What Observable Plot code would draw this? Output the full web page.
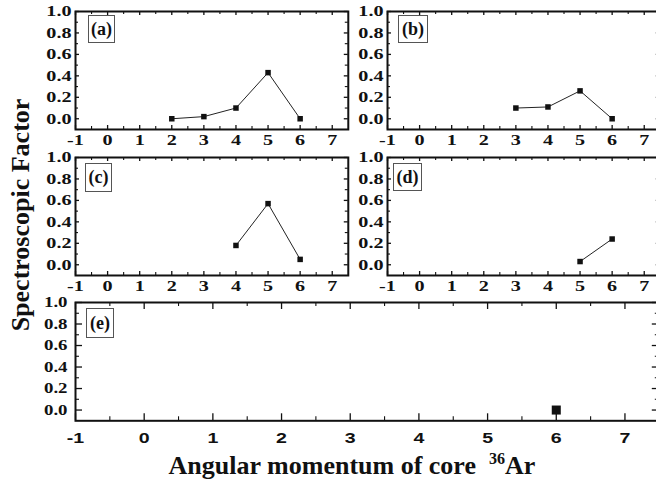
<!DOCTYPE html>
<html>
<head>
<meta charset="utf-8">
<script src="https://cdn.jsdelivr.net/npm/d3@7"></script>
<script src="https://cdn.jsdelivr.net/npm/@observablehq/plot@0.6"></script>
<style>
  body { margin: 0; background: #fff; }
  #fig { position: relative; width: 656px; height: 482px; overflow: hidden; background: #fff; }
  #fig svg { position: absolute; }
  .tag { position: absolute; box-sizing: border-box; border: 1px solid #555; background: #fff;
         font: bold 18px "Liberation Serif", "Times New Roman", serif; color: #111;
         display: flex; align-items: center; justify-content: center; }
  .title { position: absolute; white-space: nowrap; line-height: 1;
           font: bold 26px "Liberation Serif", "Times New Roman", serif; color: #111; }
</style>
</head>
<body>
<div id="fig"></div>
<script>
// Spectroscopic factors versus angular momentum of the 36Ar core
const coreJA = [2, 3, 4, 5, 6];
const sfA    = [0.0, 0.02, 0.10, 0.43, 0.0];
const coreJB = [3, 4, 5, 6];
const sfB    = [0.10, 0.11, 0.26, 0.0];
const coreJC = [4, 5, 6];
const sfC    = [0.18, 0.57, 0.05];
const coreJD = [5, 6];
const sfD    = [0.03, 0.24];
const coreJE = [6];
const sfE    = [0.0];

const panelTags = ["(a)", "(b)", "(c)", "(d)", "(e)"];

// axis ticks
const xMajor = [-1, 0, 1, 2, 3, 4, 5, 6, 7];
const xMinor = [-0.5, 0.5, 1.5, 2.5, 3.5, 4.5, 5.5, 6.5];
const yMajor = [0.0, 0.2, 0.4, 0.6, 0.8, 1.0];
const yMinor = [0.1, 0.3, 0.5, 0.7, 0.9];

const xDomain = [-1, 7.5];
const yDomain = [-0.1, 1.0];

const serif = "'Liberation Serif', 'Times New Roman', serif";
const sans = "'Liberation Sans', Arial, sans-serif";
const fig = document.getElementById("fig");

// tick labels are set wide, as in the printed figure
function widen(chart, axis, stretch) {
  chart.querySelectorAll(`g[aria-label="${axis}-axis tick label"] text`).forEach(t => {
    t.setAttribute("transform", (t.getAttribute("transform") || "") + ` scale(${stretch},1)`);
  });
}

function panel({xs, ys, tag, frame, box, big}) {
  const [x0, y0, x1, y1] = frame;
  const pw = x1 - x0, ph = y1 - y0;
  const mL = 60, mR = 6, mT = 6, mB = 30;
  const data = xs.map((x, i) => ({x, y: ys[i]}));
  const maj = big ? 7 : 4, mnr = big ? 4 : 3;

  // inward ticks on all four sides of the frame
  const tickMarks = [
    Plot.ruleX(xMajor, {x: d => d, insetTop: ph - maj, strokeWidth: 1.3}),
    Plot.ruleX(xMajor, {x: d => d, insetBottom: ph - maj, strokeWidth: 1.3}),
    Plot.ruleX(xMinor, {x: d => d, insetTop: ph - mnr, strokeWidth: 1.1}),
    Plot.ruleX(xMinor, {x: d => d, insetBottom: ph - mnr, strokeWidth: 1.1}),
    Plot.ruleY(yMajor, {y: d => d, insetRight: pw - maj, strokeWidth: 1.3}),
    Plot.ruleY(yMajor, {y: d => d, insetLeft: pw - maj, strokeWidth: 1.3}),
    Plot.ruleY(yMinor, {y: d => d, insetRight: pw - mnr, strokeWidth: 1.1}),
    Plot.ruleY(yMinor, {y: d => d, insetLeft: pw - mnr, strokeWidth: 1.1})
  ];

  const chart = Plot.plot({
    width: pw + mL + mR,
    height: ph + mT + mB,
    marginLeft: mL, marginRight: mR, marginTop: mT, marginBottom: mB,
    style: {background: "transparent", overflow: "visible", maxWidth: "none", color: "#111"},
    x: {domain: xDomain},
    y: {domain: yDomain},
    axis: null,
    marks: [
      ...tickMarks,
      Plot.axisX(xMajor, {
        anchor: "bottom", tickSize: 0, tickPadding: big ? 12 : 5, label: null,
        tickFormat: d => String(d),
        fontFamily: big ? sans : serif, fontSize: big ? 14.5 : 15.5, fontWeight: "bold"
      }),
      Plot.axisY(yMajor, {
        anchor: "left", tickSize: 0, tickPadding: big ? 8 : 4, label: null,
        tickFormat: d3.format(".1f"),
        fontFamily: serif, fontSize: big ? 14.5 : 15.5, fontWeight: "bold"
      }),
      Plot.line(data, {x: "x", y: "y", stroke: "#222", strokeWidth: 1}),
      Plot.dot(data, {x: "x", y: "y", symbol: "square", r: big ? 5.1 : 3.1, fill: "#111", stroke: "none"}),
      Plot.frame({stroke: "#111", strokeWidth: 2})
    ]
  });
  widen(chart, "x", big ? 1.35 : 1.3);
  widen(chart, "y", 1.3);
  chart.style.left = (x0 - mL) + "px";
  chart.style.top = (y0 - mT) + "px";
  fig.appendChild(chart);

  const t = document.createElement("div");
  t.className = "tag";
  t.textContent = tag;
  const [bl, bt, bw, bh] = box;
  Object.assign(t.style, {left: bl + "px", top: bt + "px", width: bw + "px", height: bh + "px"});
  fig.appendChild(t);
}

panel({xs: coreJA, ys: sfA, tag: panelTags[0], frame: [74.7, 11, 347.5, 129], box: [88, 15, 27, 28]});
panel({xs: coreJB, ys: sfB, tag: panelTags[1], frame: [386.7, 11, 659.5, 129], box: [398, 15, 30, 28]});
panel({xs: coreJC, ys: sfC, tag: panelTags[2], frame: [74.7, 156.5, 347.5, 274.5], box: [85, 163, 27, 29]});
panel({xs: coreJD, ys: sfD, tag: panelTags[3], frame: [386.7, 156.5, 659.5, 274.5], box: [393, 163, 29, 28]});
panel({xs: coreJE, ys: sfE, tag: panelTags[4], frame: [74.7, 301.7, 658.5, 420], box: [86, 308, 28, 30], big: true});

// shared axis titles
const yTitle = document.createElement("div");
yTitle.className = "title";
yTitle.textContent = "Spectroscopic Factor";
Object.assign(yTitle.style, {left: "21px", top: "215px", transform: "translate(-50%, -50%) rotate(-90deg)"});
fig.appendChild(yTitle);

const xTitle = document.createElement("div");
xTitle.className = "title";
xTitle.innerHTML = 'Angular momentum of core&nbsp; <span style="font-size:0.62em;vertical-align:0.6em">36</span>Ar';
Object.assign(xTitle.style, {left: "352px", top: "450px", transform: "translateX(-50%)"});
fig.appendChild(xTitle);
</script>
</body>
</html>
